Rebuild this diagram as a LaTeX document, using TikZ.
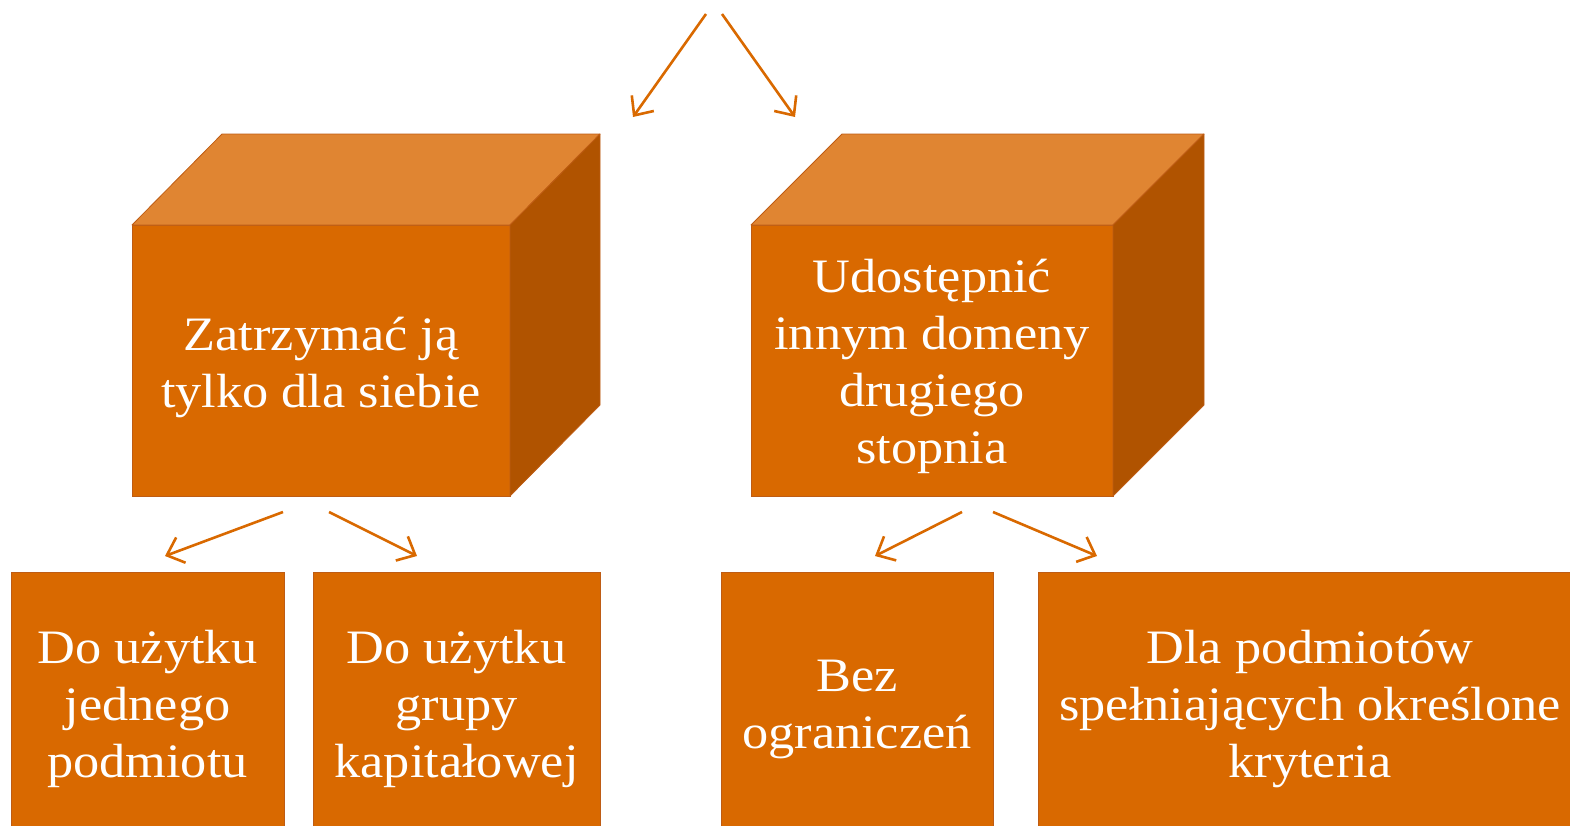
\documentclass[tikz,border=0pt]{standalone}
\usepackage{fontspec}
\setmainfont{Liberation Serif}[FakeStretch=1.09]
\usetikzlibrary{arrows.meta}
\definecolor{frontc}{RGB}{217,105,0}
\definecolor{topc}{RGB}{224,133,50}
\definecolor{sidec}{RGB}{176,83,0}
\definecolor{edgec}{RGB}{190,92,20}
\tikzset{
  face/.style={fill=frontc, draw=edgec, line width=0.8pt, inner sep=0pt, outer sep=0pt,
    text=white, align=center, font=\fontsize{48}{57}\selectfont},
  label/.style={text=white, align=center, inner sep=0pt, font=\fontsize{48}{57}\selectfont},
  topface/.style={fill=topc, draw=edgec, line width=0.8pt, line join=round},
  sideface/.style={fill=sidec, draw=edgec, line width=0.8pt, line join=round},
  arr/.style={draw=frontc, line width=2.6pt, -{Straight Barb[length=15pt,width=27pt,line width=2.6pt]}},
}
\begin{document}
\begin{tikzpicture}[x=1pt,y=-1pt]
\useasboundingbox (0,0) rectangle (1570,825);
\clip (0,0) rectangle (1570,825);
% left cube
\node[face, minimum width=378pt, minimum height=271pt] (c1) at (321,360.5) {};
\path[topface] (c1.north west) -- ++(90,-91) -- ++(378,0) -- (c1.north east) -- cycle;
\path[sideface] (c1.north east) -- ++(90,-91) -- ++(0,271) -- (c1.south east) -- cycle;
\node[label] (l1) at (321,367) {Zatrzymać ją\\tylko dla siebie};
% right cube
\node[face, minimum width=362pt, minimum height=271pt] (c2) at (932,360.5) {};
\path[topface] (c2.north west) -- ++(91,-91) -- ++(362,0) -- (c2.north east) -- cycle;
\path[sideface] (c2.north east) -- ++(91,-91) -- ++(0,271) -- (c2.south east) -- cycle;
\node[label] (l2) at (932,366) {Udostępnić\\innym domeny\\drugiego\\stopnia};
% bottom boxes
\node[face, minimum width=273pt, minimum height=263pt, anchor=north west] (b1) at (11,572) {};
\node[label] (t1) at (147.5,709) {Do użytku\\jednego\\podmiotu};
\node[face, minimum width=287pt, minimum height=263pt, anchor=north west] (b2) at (313,572) {};
\node[label] (t2) at (456.5,709) {Do użytku\\grupy\\kapitałowej};
\node[face, minimum width=272pt, minimum height=263pt, anchor=north west] (b3) at (721,572) {};
\node[label] (t3) at (857,709) {Bez\\ograniczeń};
\node[face, minimum width=544pt, minimum height=263pt, anchor=north west] (b4) at (1038,572) {};
\node[label] (t4) at (1310,709) {Dla podmiotów\\spełniających określone\\kryteria};
% arrows
\coordinate (a1s) at (706,14); \coordinate (a1e) at (633,117);
\coordinate (a2s) at (722,14); \coordinate (a2e) at (795,117);
\coordinate (a3s) at (283,512); \coordinate (a3e) at (165,556);
\coordinate (a4s) at (329,512); \coordinate (a4e) at (417,556);
\coordinate (a5s) at (962,512); \coordinate (a5e) at (875,556);
\coordinate (a6s) at (993,512); \coordinate (a6e) at (1097,556);
\draw[arr] (a1s) -- (a1e);
\draw[arr] (a2s) -- (a2e);
\draw[arr] (a3s) -- (a3e);
\draw[arr] (a4s) -- (a4e);
\draw[arr] (a5s) -- (a5e);
\draw[arr] (a6s) -- (a6e);
\end{tikzpicture}
\end{document}
